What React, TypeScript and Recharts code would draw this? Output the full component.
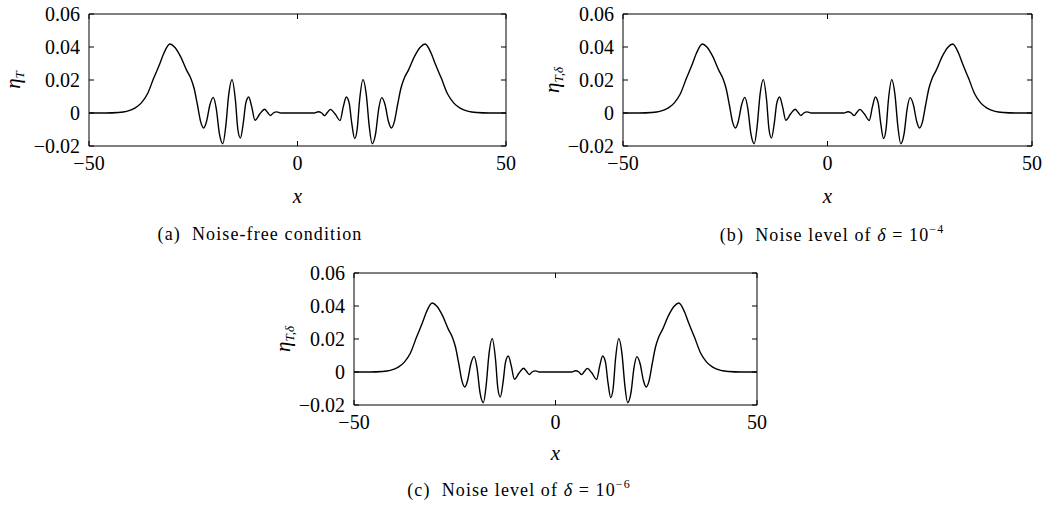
import { Line, LineChart, XAxis, YAxis } from "recharts";

// eta readings along x (left half, then right half mirrored as seen in the plots)
const xValues = [
  -50, -46, -43, -41, -39, -37.5, -36, -34.5, -33, -32,
  -30.6, -29.5, -28, -26.6, -25.5, -24.8, -24, -23.2, -22.5, -21.8,
  -21, -20.2, -19.5, -18.7, -17.9, -17.2, -16.5, -15.7, -14.9, -14.3,
  -13.7, -13, -12.4, -11.7, -11, -10.2, -9, -7.9, -7.2, -6.5,
  -5.8, -5, -4, 0,
  4, 5, 5.8, 6.5, 7.2, 7.9, 9, 10.2, 11, 11.7,
  12.4, 13, 13.7, 14.3, 14.9, 15.7, 16.5, 17.2, 17.9, 18.7,
  19.5, 20.2, 21, 21.8, 22.5, 23.2, 24, 24.8, 25.5, 26.6,
  28, 29.5, 30.6, 32, 33, 34.5, 36, 37.5, 39, 41,
  43, 46, 50,
];

const etaFree = [
  0, 0, 0.0003, 0.001, 0.003, 0.006, 0.0115, 0.021, 0.03, 0.0365,
  0.0418, 0.04, 0.034, 0.026, 0.0205, 0.015, 0.005, -0.0055, -0.0091, -0.005,
  0.005, 0.0095, 0.003, -0.013, -0.0186, -0.008, 0.011, 0.0202, 0.008, -0.01,
  -0.0152, -0.006, 0.006, 0.0097, 0.004, -0.0044, -0.0005, 0.0023, 0.0004, -0.0015,
  0, 0.0007, 0, 0,
  0, 0.0008, 0, -0.0016, 0.0004, 0.0022, -0.0005, -0.0045, 0.004, 0.0097,
  0.006, -0.006, -0.0155, -0.01, 0.008, 0.0202, 0.011, -0.008, -0.0186, -0.013,
  0.003, 0.0093, 0.005, -0.005, -0.0091, -0.0055, 0.005, 0.015, 0.0205, 0.026,
  0.034, 0.04, 0.0418, 0.0365, 0.03, 0.021, 0.0115, 0.006, 0.003, 0.001,
  0.0003, 0, 0,
];

// with noise of 1e-4 / 1e-6 the curves look the same as the noise-free one
const etaNoise4 = etaFree;
const etaNoise6 = etaFree;

const xTicks = [-50, 0, 50];
const yTicks = [-0.02, 0, 0.02, 0.04, 0.06];

const serif = "'Liberation Serif', 'Times New Roman', serif";

const fmtX = (v: number) => (v < 0 ? `\u2212${Math.abs(v)}` : `${v}`);
const fmtY = (v: number) =>
  v === 0 ? "0" : `${v < 0 ? "\u2212" : ""}${Math.abs(v).toFixed(2)}`;

const tickStyle = { fill: "#000", fontSize: 20, fontFamily: serif };
const noLabel = () => <g />;

function Panel({ left, top, plotW, values }: any) {
  const yAxisW = 89;
  const mTop = 14;
  const mRight = 14;
  const plotH = 132;
  const xAxisH = 30;
  const data = xValues.map((x, i) => ({ x, y: values[i] }));

  return (
    <div style={{ position: "absolute", left: left - yAxisW, top: top - mTop }}>
      <LineChart
        width={yAxisW + plotW + mRight}
        height={mTop + plotH + xAxisH + 10}
        data={data}
        margin={{ top: mTop, right: mRight, bottom: 10, left: 0 }}
      >
        <XAxis
          xAxisId="main"
          dataKey="x"
          type="number"
          domain={[-50, 50]}
          ticks={xTicks}
          interval={0}
          tickFormatter={fmtX}
          tick={tickStyle}
          tickLine={false}
          tickSize={0}
          tickMargin={10}
          height={xAxisH}
          axisLine={{ stroke: "#000", strokeWidth: 1 }}
        />
        <XAxis
          xAxisId="bottomTicks"
          dataKey="x"
          type="number"
          domain={[-50, 50]}
          ticks={xTicks}
          interval={0}
          mirror
          tick={noLabel}
          tickSize={5}
          tickLine={{ stroke: "#000" }}
          axisLine={false}
        />
        <XAxis
          xAxisId="topTicks"
          orientation="top"
          dataKey="x"
          type="number"
          domain={[-50, 50]}
          ticks={xTicks}
          interval={0}
          mirror
          tick={noLabel}
          tickSize={5}
          tickLine={{ stroke: "#000" }}
          axisLine={{ stroke: "#000", strokeWidth: 1 }}
        />
        <YAxis
          yAxisId="main"
          dataKey="y"
          type="number"
          domain={[-0.02, 0.06]}
          ticks={yTicks}
          interval={0}
          tickFormatter={fmtY}
          tick={tickStyle}
          tickLine={false}
          tickSize={0}
          tickMargin={9}
          width={yAxisW}
          axisLine={{ stroke: "#000", strokeWidth: 1 }}
        />
        <YAxis
          yAxisId="leftTicks"
          dataKey="y"
          type="number"
          domain={[-0.02, 0.06]}
          ticks={yTicks}
          interval={0}
          mirror
          tick={noLabel}
          tickSize={5}
          tickLine={{ stroke: "#000" }}
          axisLine={false}
        />
        <YAxis
          yAxisId="rightTicks"
          orientation="right"
          dataKey="y"
          type="number"
          domain={[-0.02, 0.06]}
          ticks={yTicks}
          interval={0}
          mirror
          tick={noLabel}
          tickSize={5}
          tickLine={{ stroke: "#000" }}
          axisLine={{ stroke: "#000", strokeWidth: 1 }}
        />
        <Line
          xAxisId="main"
          yAxisId="main"
          dataKey="y"
          type="monotone"
          stroke="#000"
          strokeWidth={1.4}
          dot={false}
          activeDot={false}
          isAnimationActive={false}
        />
      </LineChart>
    </div>
  );
}

function YTitle({ x, y, sub }: { x: number; y: number; sub: string }) {
  return (
    <text
      transform={`translate(${x},${y}) rotate(-90)`}
      textAnchor="middle"
      fontFamily={serif}
      fontStyle="italic"
      fontSize={21}
    >
      η
      <tspan fontSize={13} dy={4}>
        {sub}
      </tspan>
    </text>
  );
}

function Caption({ x, y, label, power }: any) {
  const style = { whiteSpace: "pre" as const, letterSpacing: 1.1 };
  return (
    <text x={x} y={y} textAnchor="middle" fontFamily={serif} fontSize={18} style={style}>
      {power ? (
        <>
          {`(${label})  Noise level of `}
          <tspan fontStyle="italic">δ</tspan>
          {" = 10"}
          <tspan fontSize={12} dy={-8}>
            {`\u2212${power}`}
          </tspan>
        </>
      ) : (
        `(${label})  Noise-free condition`
      )}
    </text>
  );
}

export default function App() {
  return (
    <div
      style={{
        position: "absolute",
        left: 0,
        top: 0,
        width: 1052,
        height: 506,
        background: "#fff",
      }}
    >
      <Panel left={89} top={14} plotW={417} values={etaFree} />
      <Panel left={623} top={14} plotW={409} values={etaNoise4} />
      <Panel left={354} top={273} plotW={403} values={etaNoise6} />
      <svg
        width={1052}
        height={506}
        style={{ position: "absolute", left: 0, top: 0, pointerEvents: "none" }}
      >
        <YTitle x={20} y={80} sub="T" />
        <YTitle x={559} y={80} sub="T,δ" />
        <YTitle x={290} y={339} sub="T,δ" />
        {[
          [297.5, 203],
          [827.5, 203],
          [555.5, 460],
        ].map(([x, y]) => (
          <text key={x} x={x} y={y} textAnchor="middle" fontFamily={serif} fontStyle="italic" fontSize={21}>
            x
          </text>
        ))}
        <Caption x={260} y={240} label="a" />
        <Caption x={832} y={241} label="b" power="4" />
        <Caption x={519} y={496} label="c" power="6" />
      </svg>
    </div>
  );
}
